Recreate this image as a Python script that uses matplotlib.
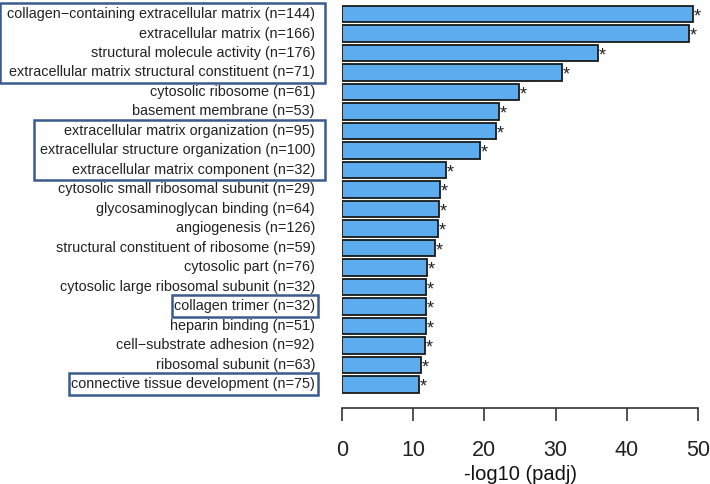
import matplotlib.pyplot as plt
from matplotlib.patches import Rectangle

plt.rcParams['font.family'] = ['Liberation Sans', 'DejaVu Sans']

terms = ['collagen\u2212containing extracellular matrix (n=144)',
         'extracellular matrix (n=166)',
         'structural molecule activity (n=176)',
         'extracellular matrix structural constituent (n=71)',
         'cytosolic ribosome (n=61)',
         'basement membrane (n=53)',
         'extracellular matrix organization (n=95)',
         'extracellular structure organization (n=100)',
         'extracellular matrix component (n=32)',
         'cytosolic small ribosomal subunit (n=29)',
         'glycosaminoglycan binding (n=64)',
         'angiogenesis (n=126)',
         'structural constituent of ribosome (n=59)',
         'cytosolic part (n=76)',
         'cytosolic large ribosomal subunit (n=32)',
         'collagen trimer (n=32)',
         'heparin binding (n=51)',
         'cell\u2212substrate adhesion (n=92)',
         'ribosomal subunit (n=63)',
         'connective tissue development (n=75)']
padj_log = [49.35, 48.7, 36.0, 30.95, 24.85, 22.0, 21.6, 19.4, 14.65, 13.8,
            13.6, 13.5, 13.0, 11.9, 11.75, 11.75, 11.75, 11.65, 11.05, 10.85]
ticks = [0, 10, 20, 30, 40, 50]
# groups of highlighted terms (first row, last row)
boxes = [(0, 3), (6, 8), (15, 15), (19, 19)]
box_pad = [(7, 10), (6, 10), (2, 3), (2, 3)]

fig = plt.figure(figsize=(7.1, 4.84), dpi=100)
W, H = 710, 484
ax = fig.add_axes([342 / W, 1 - 395 / H, 356 / W, 391 / H])

rows = list(range(len(terms)))
ax.barh(rows, padj_log, height=0.85, color='#5CACEE', edgecolor='#1a1a1a', linewidth=1.3)
for y, v in zip(rows, padj_log):
    ax.text(v + 0.1, y + 0.15, '*', fontsize=13, ha='left', va='center', color='#222222')

ax.set_xlim(0, 50)
ax.set_ylim(19.54, -0.513)
ax.set_yticks([])
for s in ['top', 'right', 'left']:
    ax.spines[s].set_visible(False)
ax.spines['bottom'].set_position(('outward', 9.4))
ax.spines['bottom'].set_bounds(0, 50)
ax.spines['bottom'].set_linewidth(1.2)
ax.spines['bottom'].set_color('#333333')
ax.set_xticks(ticks)
ax.tick_params(axis='x', length=9.4, width=1.2, color='#333333', labelsize=15.5, pad=13.5, labelcolor='#222222')
ax.set_xlabel('-log10 (padj)', fontsize=14.5, labelpad=3, color='#111111')

labels = []
for y, t in zip(rows, terms):
    labels.append(ax.text(-27 / 356 * 50, y, t, ha='right', va='center', fontsize=10.4,
                          color='#222222', clip_on=False))

fig.canvas.draw()
r = fig.canvas.get_renderer()
inv = fig.transFigure.inverted()
for (a, b), (pl, pr) in zip(boxes, box_pad):
    bbs = [labels[i].get_window_extent(r) for i in range(a, b + 1)]
    x0 = min(bb.x0 for bb in bbs) - pl
    x1 = max(bb.x1 for bb in bbs) + pr
    ytop = ax.transData.transform((0, a - 0.57))[1]
    ybot = ax.transData.transform((0, b + 0.52))[1]
    (fx0, fy0) = inv.transform((x0, ybot))
    (fx1, fy1) = inv.transform((x1, ytop))
    fig.patches.append(Rectangle((fx0, fy0), fx1 - fx0, fy1 - fy0, transform=fig.transFigure,
                                 fill=False, edgecolor='#3b5b8c', linewidth=1.8))

plt.savefig('out.png', dpi=100)
plt.close()
